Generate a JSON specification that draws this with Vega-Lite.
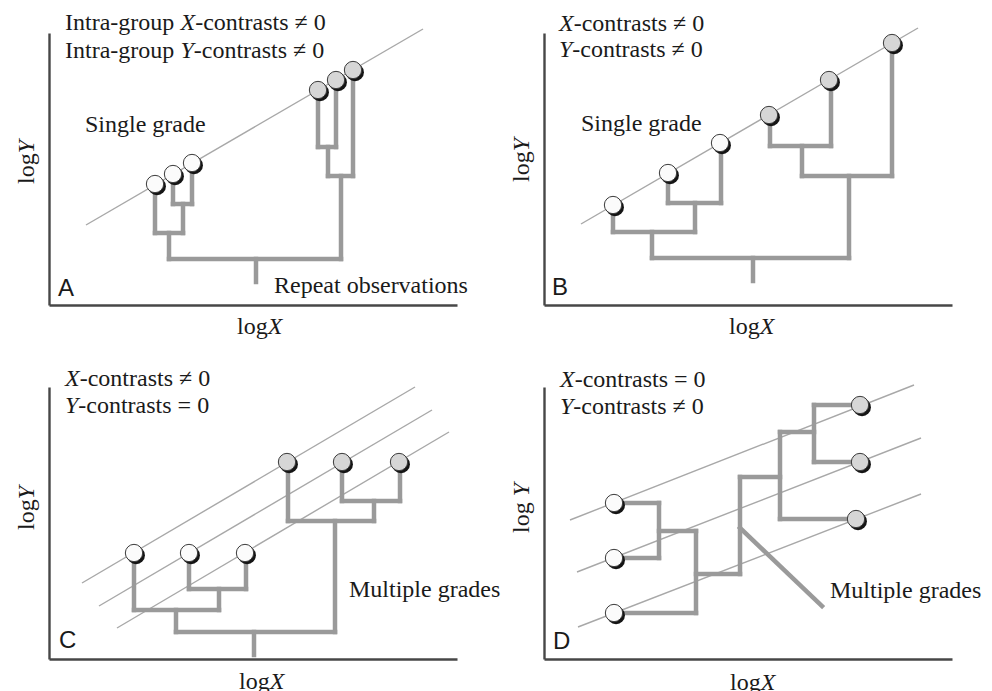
{
  "$schema": "https://vega.github.io/schema/vega-lite/v6.json",
  "padding": {"left": 14, "top": 11, "right": 4, "bottom": 0},
  "background": "white",
  "data": {"values": [
    {"panel":"A","kind":"trend","x":37,"y":80,"x2":374,"y2":276},
    {"panel":"A","kind":"branch","x":106,"y":121,"x2":106,"y2":72},
    {"panel":"A","kind":"branch","x":124,"y":131,"x2":124,"y2":101},
    {"panel":"A","kind":"branch","x":143,"y":142,"x2":143,"y2":101},
    {"panel":"A","kind":"branch","x":124,"y":101,"x2":143,"y2":101},
    {"panel":"A","kind":"branch","x":134,"y":101,"x2":134,"y2":72},
    {"panel":"A","kind":"branch","x":106,"y":72,"x2":134,"y2":72},
    {"panel":"A","kind":"branch","x":120,"y":72,"x2":120,"y2":46},
    {"panel":"A","kind":"branch","x":120,"y":46,"x2":292,"y2":46},
    {"panel":"A","kind":"branch","x":269,"y":215,"x2":269,"y2":158},
    {"panel":"A","kind":"branch","x":287,"y":225,"x2":287,"y2":158},
    {"panel":"A","kind":"branch","x":269,"y":158,"x2":287,"y2":158},
    {"panel":"A","kind":"branch","x":279,"y":158,"x2":279,"y2":129},
    {"panel":"A","kind":"branch","x":304,"y":235,"x2":304,"y2":129},
    {"panel":"A","kind":"branch","x":279,"y":129,"x2":304,"y2":129},
    {"panel":"A","kind":"branch","x":292,"y":129,"x2":292,"y2":46},
    {"panel":"A","kind":"branch","x":207,"y":46,"x2":207,"y2":23},
    {"panel":"A","kind":"tip","x":106,"y":121,"group":"1"},
    {"panel":"A","kind":"tip","x":124,"y":131,"group":"1"},
    {"panel":"A","kind":"tip","x":143,"y":142,"group":"1"},
    {"panel":"A","kind":"tip","x":269,"y":215,"group":"2"},
    {"panel":"A","kind":"tip","x":287,"y":225,"group":"2"},
    {"panel":"A","kind":"tip","x":304,"y":235,"group":"2"},
    {"panel":"A","kind":"text","x":16,"y":275,"text":"Intra-group"},
    {"panel":"A","kind":"var","x":131.5,"y":275,"text":"X"},
    {"panel":"A","kind":"text","x":146.2,"y":275,"text":"-contrasts ≠ 0"},
    {"panel":"A","kind":"text","x":16,"y":247.5,"text":"Intra-group"},
    {"panel":"A","kind":"var","x":131.5,"y":247.5,"text":"Y"},
    {"panel":"A","kind":"text","x":144.8,"y":247.5,"text":"-contrasts ≠ 0"},
    {"panel":"A","kind":"text","x":36,"y":173,"text":"Single grade"},
    {"panel":"A","kind":"text","x":225,"y":12,"text":"Repeat observations"},
    {"panel":"A","kind":"text","x":188,"y":-29,"text":"log"},
    {"panel":"A","kind":"var","x":218.7,"y":-29,"text":"X"},
    {"panel":"A","kind":"letter","x":9,"y":9,"text":"A"},
    {"panel":"A","kind":"ytext","x":-15,"y":121,"text":"log"},
    {"panel":"A","kind":"yvar","x":-15,"y":151.7,"text":"Y"},

    {"panel":"B","kind":"trend","x":37,"y":81,"x2":374,"y2":277},
    {"panel":"B","kind":"branch","x":69,"y":100,"x2":69,"y2":73},
    {"panel":"B","kind":"branch","x":124,"y":132,"x2":124,"y2":102},
    {"panel":"B","kind":"branch","x":177,"y":162,"x2":177,"y2":102},
    {"panel":"B","kind":"branch","x":124,"y":102,"x2":177,"y2":102},
    {"panel":"B","kind":"branch","x":151,"y":102,"x2":151,"y2":73},
    {"panel":"B","kind":"branch","x":69,"y":73,"x2":151,"y2":73},
    {"panel":"B","kind":"branch","x":108,"y":73,"x2":108,"y2":47},
    {"panel":"B","kind":"branch","x":108,"y":47,"x2":305,"y2":47},
    {"panel":"B","kind":"branch","x":226,"y":190,"x2":226,"y2":159},
    {"panel":"B","kind":"branch","x":287,"y":225,"x2":287,"y2":159},
    {"panel":"B","kind":"branch","x":226,"y":159,"x2":287,"y2":159},
    {"panel":"B","kind":"branch","x":258,"y":159,"x2":258,"y2":129},
    {"panel":"B","kind":"branch","x":348,"y":262,"x2":348,"y2":129},
    {"panel":"B","kind":"branch","x":258,"y":129,"x2":348,"y2":129},
    {"panel":"B","kind":"branch","x":305,"y":129,"x2":305,"y2":47},
    {"panel":"B","kind":"branch","x":209,"y":47,"x2":209,"y2":24},
    {"panel":"B","kind":"tip","x":69,"y":100,"group":"1"},
    {"panel":"B","kind":"tip","x":124,"y":132,"group":"1"},
    {"panel":"B","kind":"tip","x":176,"y":162,"group":"1"},
    {"panel":"B","kind":"tip","x":225,"y":190,"group":"2"},
    {"panel":"B","kind":"tip","x":285,"y":225,"group":"2"},
    {"panel":"B","kind":"tip","x":348,"y":262,"group":"2"},
    {"panel":"B","kind":"var","x":15,"y":274,"text":"X"},
    {"panel":"B","kind":"text","x":29.7,"y":274,"text":"-contrasts ≠ 0"},
    {"panel":"B","kind":"var","x":15,"y":248,"text":"Y"},
    {"panel":"B","kind":"text","x":28.3,"y":248,"text":"-contrasts ≠ 0"},
    {"panel":"B","kind":"text","x":37,"y":174,"text":"Single grade"},
    {"panel":"B","kind":"text","x":185,"y":-29,"text":"log"},
    {"panel":"B","kind":"var","x":215.7,"y":-29,"text":"X"},
    {"panel":"B","kind":"letter","x":8,"y":10,"text":"B"},
    {"panel":"B","kind":"ytext","x":-15,"y":123,"text":"log"},
    {"panel":"B","kind":"yvar","x":-15,"y":153.7,"text":"Y"},

    {"panel":"C","kind":"trend","x":33,"y":76,"x2":366,"y2":272},
    {"panel":"C","kind":"trend","x":50,"y":53,"x2":383,"y2":249},
    {"panel":"C","kind":"trend","x":68,"y":31,"x2":400,"y2":227},
    {"panel":"C","kind":"branch","x":85,"y":106,"x2":85,"y2":49},
    {"panel":"C","kind":"branch","x":140,"y":106,"x2":140,"y2":70},
    {"panel":"C","kind":"branch","x":197,"y":106,"x2":197,"y2":70},
    {"panel":"C","kind":"branch","x":140,"y":70,"x2":197,"y2":70},
    {"panel":"C","kind":"branch","x":170,"y":70,"x2":170,"y2":49},
    {"panel":"C","kind":"branch","x":85,"y":49,"x2":170,"y2":49},
    {"panel":"C","kind":"branch","x":127,"y":49,"x2":127,"y2":27},
    {"panel":"C","kind":"branch","x":127,"y":27,"x2":286,"y2":27},
    {"panel":"C","kind":"branch","x":239,"y":197,"x2":239,"y2":138},
    {"panel":"C","kind":"branch","x":293,"y":197,"x2":293,"y2":158},
    {"panel":"C","kind":"branch","x":351,"y":197,"x2":351,"y2":158},
    {"panel":"C","kind":"branch","x":293,"y":158,"x2":351,"y2":158},
    {"panel":"C","kind":"branch","x":325,"y":158,"x2":325,"y2":138},
    {"panel":"C","kind":"branch","x":239,"y":138,"x2":325,"y2":138},
    {"panel":"C","kind":"branch","x":286,"y":138,"x2":286,"y2":27},
    {"panel":"C","kind":"branch","x":205,"y":27,"x2":205,"y2":4},
    {"panel":"C","kind":"tip","x":85,"y":106,"group":"1"},
    {"panel":"C","kind":"tip","x":140,"y":106,"group":"1"},
    {"panel":"C","kind":"tip","x":196,"y":106,"group":"1"},
    {"panel":"C","kind":"tip","x":238,"y":197,"group":"2"},
    {"panel":"C","kind":"tip","x":293,"y":197,"group":"2"},
    {"panel":"C","kind":"tip","x":350,"y":197,"group":"2"},
    {"panel":"C","kind":"var","x":16,"y":273,"text":"X"},
    {"panel":"C","kind":"text","x":30.7,"y":273,"text":"-contrasts ≠ 0"},
    {"panel":"C","kind":"var","x":16,"y":246,"text":"Y"},
    {"panel":"C","kind":"text","x":29.3,"y":246,"text":"-contrasts = 0"},
    {"panel":"C","kind":"text","x":300,"y":62,"text":"Multiple grades"},
    {"panel":"C","kind":"text","x":190,"y":-30,"text":"log"},
    {"panel":"C","kind":"var","x":220.7,"y":-30,"text":"X"},
    {"panel":"C","kind":"letter","x":10,"y":11,"text":"C"},
    {"panel":"C","kind":"ytext","x":-15,"y":129,"text":"log"},
    {"panel":"C","kind":"yvar","x":-15,"y":159.7,"text":"Y"},

    {"panel":"D","kind":"trend","x":26,"y":139,"x2":370,"y2":274},
    {"panel":"D","kind":"trend","x":33,"y":87,"x2":377,"y2":221},
    {"panel":"D","kind":"trend","x":34,"y":32,"x2":377,"y2":165},
    {"panel":"D","kind":"branch","x":70,"y":156,"x2":115,"y2":156},
    {"panel":"D","kind":"branch","x":115,"y":156,"x2":115,"y2":101},
    {"panel":"D","kind":"branch","x":70,"y":101,"x2":115,"y2":101},
    {"panel":"D","kind":"branch","x":115,"y":128,"x2":152,"y2":128},
    {"panel":"D","kind":"branch","x":152,"y":128,"x2":152,"y2":46},
    {"panel":"D","kind":"branch","x":70,"y":46,"x2":152,"y2":46},
    {"panel":"D","kind":"branch","x":152,"y":85,"x2":196,"y2":85},
    {"panel":"D","kind":"branch","x":196,"y":85,"x2":196,"y2":182},
    {"panel":"D","kind":"branch","x":196,"y":182,"x2":236,"y2":182},
    {"panel":"D","kind":"branch","x":236,"y":227,"x2":236,"y2":140},
    {"panel":"D","kind":"branch","x":236,"y":140,"x2":312,"y2":140},
    {"panel":"D","kind":"branch","x":236,"y":227,"x2":270,"y2":227},
    {"panel":"D","kind":"branch","x":270,"y":254,"x2":270,"y2":197},
    {"panel":"D","kind":"branch","x":270,"y":254,"x2":316,"y2":254},
    {"panel":"D","kind":"branch","x":270,"y":197,"x2":316,"y2":197},
    {"panel":"D","kind":"branch","x":196,"y":131,"x2":278,"y2":53},
    {"panel":"D","kind":"tip","x":70,"y":156,"group":"1"},
    {"panel":"D","kind":"tip","x":70,"y":101,"group":"1"},
    {"panel":"D","kind":"tip","x":70,"y":46,"group":"1"},
    {"panel":"D","kind":"tip","x":316,"y":254,"group":"2"},
    {"panel":"D","kind":"tip","x":316,"y":197,"group":"2"},
    {"panel":"D","kind":"tip","x":312,"y":140,"group":"2"},
    {"panel":"D","kind":"var","x":16,"y":272,"text":"X"},
    {"panel":"D","kind":"text","x":30.7,"y":272,"text":"-contrasts = 0"},
    {"panel":"D","kind":"var","x":16,"y":245,"text":"Y"},
    {"panel":"D","kind":"text","x":29.3,"y":245,"text":"-contrasts ≠ 0"},
    {"panel":"D","kind":"text","x":286,"y":61,"text":"Multiple grades"},
    {"panel":"D","kind":"text","x":186,"y":-31,"text":"log"},
    {"panel":"D","kind":"var","x":216.7,"y":-31,"text":"X"},
    {"panel":"D","kind":"letter","x":9,"y":10,"text":"D"},
    {"panel":"D","kind":"ytext","x":-15,"y":126,"text":"log"},
    {"panel":"D","kind":"yvar","x":-15,"y":162.7,"text":"Y"}
  ]},
  "facet": {"field": "panel", "type": "nominal", "title": null, "header": {"labels": false, "labelExpr": "''", "labelFontSize": 0, "labelPadding": 0}},
  "columns": 2,
  "spacing": {"row": 82, "column": 87},
  "bounds": "flush",
  "resolve": {"axis": {"x": "independent", "y": "independent"}},
  "spec": {
    "width": 408,
    "height": 272,
    "encoding": {
      "x": {"field": "x", "type": "quantitative", "scale": {"domain": [0, 408], "nice": false, "zero": false},
            "axis": {"title": null, "labels": false, "ticks": false, "grid": false, "domain": true, "domainColor": "#474747", "domainWidth": 2.4}},
      "y": {"field": "y", "type": "quantitative", "scale": {"domain": [0, 272], "nice": false, "zero": false},
            "axis": {"title": null, "labels": false, "ticks": false, "grid": false, "domain": true, "domainColor": "#474747", "domainWidth": 2.4}}
    },
    "layer": [
      {"transform": [{"filter": "datum.kind === 'trend'"}],
       "mark": {"type": "rule", "color": "#a8a8a8", "strokeWidth": 1.4},
       "encoding": {"x2": {"field": "x2"}, "y2": {"field": "y2"}}},
      {"transform": [{"filter": "datum.kind === 'branch'"}],
       "mark": {"type": "rule", "color": "#9a9a9a", "strokeWidth": 4.5, "strokeCap": "square"},
       "encoding": {"x2": {"field": "x2"}, "y2": {"field": "y2"}}},
      {"transform": [{"filter": "datum.kind === 'tip'"}],
       "mark": {"type": "point", "shape": "circle", "filled": true, "size": 320, "color": "#151515", "opacity": 1, "xOffset": 2, "yOffset": 2.2},
       "encoding": {}},
      {"transform": [{"filter": "datum.kind === 'tip'"}],
       "mark": {"type": "point", "shape": "circle", "filled": true, "size": 300, "stroke": "#3a3a3a", "strokeWidth": 1, "opacity": 1},
       "encoding": {"fill": {"field": "group", "type": "nominal", "scale": {"domain": ["1", "2"], "range": ["#fbfbfb", "#d6d6d6"]}, "legend": null}}},
      {"transform": [{"filter": "datum.kind === 'text'"}],
       "mark": {"type": "text", "font": "Liberation Serif", "fontSize": 24, "align": "left", "baseline": "alphabetic", "color": "#1a1a1a"},
       "encoding": {"text": {"field": "text"}}},
      {"transform": [{"filter": "datum.kind === 'var'"}],
       "mark": {"type": "text", "font": "Liberation Serif", "fontStyle": "italic", "fontSize": 24, "align": "left", "baseline": "alphabetic", "color": "#1a1a1a"},
       "encoding": {"text": {"field": "text"}}},
      {"transform": [{"filter": "datum.kind === 'letter'"}],
       "mark": {"type": "text", "font": "Liberation Sans", "fontSize": 24, "align": "left", "baseline": "alphabetic", "color": "#1a1a1a"},
       "encoding": {"text": {"field": "text"}}},
      {"transform": [{"filter": "datum.kind === 'ytext'"}],
       "mark": {"type": "text", "font": "Liberation Serif", "fontSize": 24, "angle": 270, "align": "left", "baseline": "alphabetic", "color": "#1a1a1a"},
       "encoding": {"text": {"field": "text"}}},
      {"transform": [{"filter": "datum.kind === 'yvar'"}],
       "mark": {"type": "text", "font": "Liberation Serif", "fontStyle": "italic", "fontSize": 24, "angle": 270, "align": "left", "baseline": "alphabetic", "color": "#1a1a1a"},
       "encoding": {"text": {"field": "text"}}}
    ]
  },
  "config": {"view": {"stroke": null}, "header": {"labels": false, "labelFontSize": 0, "labelPadding": 0, "titlePadding": 0}}
}
